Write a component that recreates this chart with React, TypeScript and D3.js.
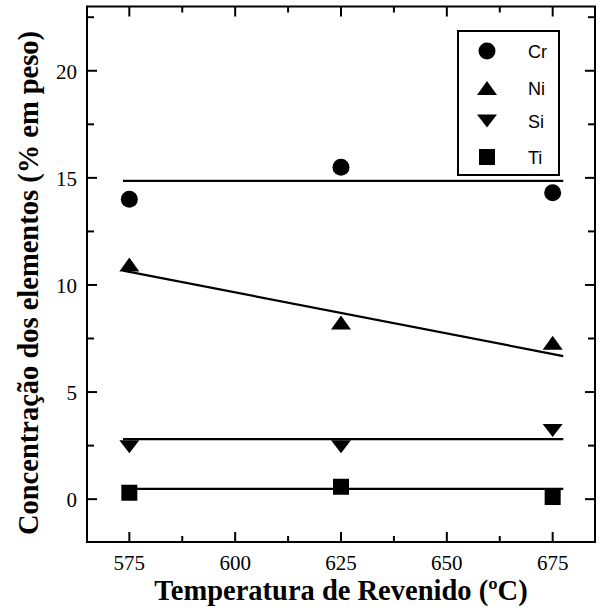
import React from 'react';
import * as d3 from 'd3';

// temperatures (ºC) and measured concentrations (% em peso)
const temperatures = [575, 625, 675];
const crValues = [14.0, 15.5, 14.3];
const niValues = [10.95, 8.25, 7.3];
const siValues = [2.45, 2.45, 3.2];
const tiValues = [0.3, 0.58, 0.1];

// fitted lines: start / end values over fitRange
const fitRange = [573.5, 677.5];
const crFit = [14.86, 14.86];
const niFit = [10.67, 6.68];
const siFit = [2.8, 2.8];
const tiFit = [0.48, 0.48];

const xTicks = [575, 600, 625, 650, 675];
const yTicks = [0, 5, 10, 15, 20];
const legendLabels = ['Cr', 'Ni', 'Si', 'Ti'];

const W = 603;
const H = 611;
const left = 87, right = 595, top = 6.5, bottom = 542;

const x = d3.scaleLinear().domain([565, 685]).range([left, right]);
const y = d3.scaleLinear().domain([-2, 23]).range([bottom, top]);

const xMinor = d3.range(587.5, 685, 25);
const yMinor = d3.range(2.5, 23, 5);

const serif = '"Liberation Serif", "Times New Roman", serif';
const sans = '"Liberation Sans", Arial, sans-serif';

function Marker({ kind, cx, cy }: { kind: string; cx: number; cy: number }) {
  if (kind === 'Cr') return <circle cx={cx} cy={cy} r={8.5} fill="#000" />;
  if (kind === 'Ni')
    return <path transform={`translate(${cx},${cy})`} d="M0,-7L10,7L-10,7Z" fill="#000" />;
  if (kind === 'Si')
    return <path transform={`translate(${cx},${cy})`} d="M-10,-6.5L10,-6.5L0,6.5Z" fill="#000" />;
  return <rect x={cx - 8} y={cy - 8} width={16} height={16} fill="#000" />;
}

const series = [
  { name: 'Cr', values: crValues, fit: crFit },
  { name: 'Ni', values: niValues, fit: niFit },
  { name: 'Si', values: siValues, fit: siFit },
  { name: 'Ti', values: tiValues, fit: tiFit },
];

const line = d3
  .line<[number, number]>()
  .x((d) => x(d[0]))
  .y((d) => y(d[1]));

export default function App() {
  const legendRows = [51, 88, 121, 157];
  return (
    <svg
      width={W}
      height={H}
      style={{ position: 'absolute', left: 0, top: 0, background: '#fff' }}
    >
      {/* fit lines */}
      {series.map((s) => (
        <path
          key={'fit' + s.name}
          d={line(fitRange.map((t, i) => [t, s.fit[i]] as [number, number])) || ''}
          fill="none"
          stroke="#000"
          strokeWidth={2.2}
        />
      ))}

      {/* points */}
      {series.map((s) =>
        s.values.map((v, i) => (
          <Marker key={s.name + i} kind={s.name} cx={x(temperatures[i])} cy={y(v)} />
        ))
      )}

      {/* ticks on all four sides, pointing inward */}
      {xTicks.map((t) => (
        <g key={'xt' + t}>
          <line x1={x(t)} x2={x(t)} y1={bottom} y2={bottom - 10} stroke="#000" strokeWidth={2} />
          <line x1={x(t)} x2={x(t)} y1={top} y2={top + 10} stroke="#000" strokeWidth={2} />
          <text
            x={x(t)}
            y={570}
            textAnchor="middle"
            fontFamily={serif}
            fontSize={21}
          >
            {t}
          </text>
        </g>
      ))}
      {xMinor.map((t) => (
        <g key={'xm' + t}>
          <line x1={x(t)} x2={x(t)} y1={bottom} y2={bottom - 6} stroke="#000" strokeWidth={2} />
          <line x1={x(t)} x2={x(t)} y1={top} y2={top + 6} stroke="#000" strokeWidth={2} />
        </g>
      ))}
      {yTicks.map((t) => (
        <g key={'yt' + t}>
          <line x1={left} x2={left + 10} y1={y(t)} y2={y(t)} stroke="#000" strokeWidth={2} />
          <line x1={right} x2={right - 10} y1={y(t)} y2={y(t)} stroke="#000" strokeWidth={2} />
          <text
            x={77}
            y={y(t) + 8}
            textAnchor="end"
            fontFamily={serif}
            fontSize={21}
          >
            {t}
          </text>
        </g>
      ))}
      {yMinor.map((t) => (
        <g key={'ym' + t}>
          <line x1={left} x2={left + 7} y1={y(t)} y2={y(t)} stroke="#000" strokeWidth={2} />
          <line x1={right} x2={right - 7} y1={y(t)} y2={y(t)} stroke="#000" strokeWidth={2} />
        </g>
      ))}

      {/* frame */}
      <rect
        x={left}
        y={top}
        width={right - left}
        height={bottom - top}
        fill="none"
        stroke="#000"
        strokeWidth={2}
      />

      {/* legend */}
      <rect x={458} y={31} width={101} height={144} fill="#fff" stroke="#000" strokeWidth={2} />
      {legendLabels.map((name, i) => (
        <g key={'lg' + name}>
          <Marker kind={name} cx={487} cy={legendRows[i]} />
          <text x={528} y={legendRows[i] + 7} fontFamily={sans} fontSize={18}>
            {name}
          </text>
        </g>
      ))}

      {/* axis titles */}
      <text
        x={(left + right) / 2}
        y={600}
        textAnchor="middle"
        fontFamily={serif}
        fontWeight="bold"
        fontSize={28.5}
      >
        Temperatura de Revenido (ºC)
      </text>
      <text
        transform={`translate(38,283) rotate(-90)`}
        textAnchor="middle"
        fontFamily={serif}
        fontWeight="bold"
        fontSize={28.5}
      >
        Concentração dos elementos (% em peso)
      </text>
    </svg>
  );
}
